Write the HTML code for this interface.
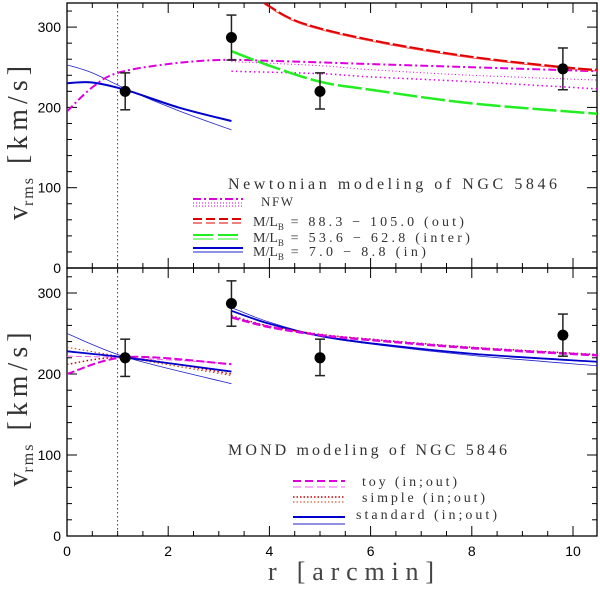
<!DOCTYPE html>
<html><head><meta charset="utf-8"><style>
body{margin:0;background:#fff;width:600px;height:585px;overflow:hidden}
svg text{font-family:"Liberation Serif",serif}
</style></head><body>
<svg id="chart" width="600" height="585" xmlns="http://www.w3.org/2000/svg">
<g id="g"></g>
</svg>
<script>
// ---- data ----
const obsR = [1.15, 3.25, 5.0, 9.8];
const obsV = [220, 287, 220, 248];
const obsLo = [197, 259, 198, 222];
const obsHi = [243, 315, 243, 274];
// top panel (Newtonian)
const blueInR = [0, 0.5, 1.2, 2.2, 3.25];
const blueInThick = [230, 231, 221, 200, 183];
const blueInThin = [253, 243, 222, 196, 172];
const nfwR = [0, 0.5, 1, 2, 3, 4, 6, 8, 10.5];
const nfwV = [195, 225, 243, 254, 259, 258, 254, 250, 245];
const nfwDotR = [3.25, 5, 6, 8, 10.5];
const nfwDot1 = [245, 242, 238, 232, 223];
const nfwDot2 = [257, 252, 247, 240, 234];
const greenR = [3.25, 4, 5, 6, 8, 10.5];
const greenV = [270, 252, 232, 222, 205, 192];
const redR = [3.9, 4.6, 6, 8, 10, 10.5];
const redV = [330, 306, 284, 263, 249, 247];
// bottom panel (MOND)
const inR = [0, 1.2, 3.25];
const stdInThick = [228, 220, 203];
const stdInThin = [250, 220, 188];
const toyIn1 = [200, 221, 212];
const toyIn2 = [222, 220, 213];
const simpIn1 = [212, 220, 200];
const simpIn2 = [233, 220, 198];
const outR = [3.25, 4, 5, 6, 8, 10.5];
const toyOut = [270, 258, 248, 242, 232, 223];
const simpOut = [272, 259, 249, 243, 233, 224];
const stdOutThick = [278, 262, 247, 238, 225, 215];
const stdOutThin = [282, 264, 247, 237, 223, 210];
const xTicks = [0, 2, 4, 6, 8, 10];
const yTicks = [0, 100, 200, 300];

// ---- axes ----
const X0 = 67, XS = 50.6, XR = 597;
function sx(r){ return X0 + r*XS; }
const panels = [{top:3, zero:268, s:0.803}, {top:268, zero:536, s:0.81}];
function sy(p, v){ return panels[p].zero - v*panels[p].s; }
const NS = "http://www.w3.org/2000/svg";
const g = document.getElementById('g');
function el(t, a, parent){ const e=document.createElementNS(NS,t); for(const k in a) e.setAttribute(k,a[k]); (parent||g).appendChild(e); return e; }
function path(p, R, V){
  const pts = R.map((r,i)=>[sx(r), sy(p,V[i])]);
  let d = "M"+pts[0][0]+","+pts[0][1];
  for(let i=0;i<pts.length-1;i++){
    const p0=pts[Math.max(i-1,0)], p1=pts[i], p2=pts[i+1], p3=pts[Math.min(i+2,pts.length-1)];
    const c1=[p1[0]+(p2[0]-p0[0])/6, p1[1]+(p2[1]-p0[1])/6];
    const c2=[p2[0]-(p3[0]-p1[0])/6, p2[1]-(p3[1]-p1[1])/6];
    d += " C"+c1+" "+c2+" "+p2;
  }
  return d;
}
function curve(p, R, V, color, w, dash, name){
  const e = el('path', {d:path(p,R,V), fill:'none', stroke:color, 'stroke-width':w, 'stroke-dasharray':dash||'none', 'clip-path':'url(#clip'+p+')'});
  
  
}
const defs = el('defs', {});
[0,1].forEach(p=>{
  const c = el('clipPath', {id:'clip'+p}, defs);
  el('rect', {x:X0, y:panels[p].top, width:XR-X0, height:panels[p].zero-panels[p].top}, c);
});

[0,1].forEach(p=>{
  const P = panels[p];
  const f = el('rect', {x:X0, y:P.top, width:XR-X0, height:P.zero-P.top, fill:'none', stroke:'#000', 'stroke-width':1.3});
  
  
  for(let r=0.5; sx(r)<XR; r+=0.5){
    const maj = Math.abs(r%2)<1e-6; const L = maj?10:5;
    el('line',{x1:sx(r),x2:sx(r),y1:P.zero,y2:P.zero-L,stroke:'#000','stroke-width':1});
    el('line',{x1:sx(r),x2:sx(r),y1:P.top,y2:P.top+L,stroke:'#000','stroke-width':1});
  }
  for(let v=20; sy(p,v)>P.top; v+=20){
    const maj = v%100===0; const L = maj?10:5;
    el('line',{x1:X0,x2:X0+L,y1:sy(p,v),y2:sy(p,v),stroke:'#000','stroke-width':1});
    el('line',{x1:XR,x2:XR-L,y1:sy(p,v),y2:sy(p,v),stroke:'#000','stroke-width':1});
  }
  yTicks.forEach(v=>{
    const t = el('text',{x:X0-6,y:sy(p,v)+5,'text-anchor':'end','font-size':14,style:'font-family:"Liberation Sans",sans-serif'});
    t.textContent = v;
    
    
  });
  el('line',{x1:sx(1),x2:sx(1),y1:P.top,y2:P.zero,stroke:'#444','stroke-width':1,'stroke-dasharray':'1.5,2.5'});
  const yt = el('text',{x:0,y:0,transform:'translate(27,'+((P.top+P.zero)/2+5)+') rotate(-90)','text-anchor':'middle','font-size':28,fill:'#333'});
  yt.innerHTML = 'v<tspan font-size="16" dy="6" letter-spacing="2">rms</tspan><tspan dy="-6" letter-spacing="5">  [km/s]</tspan>';
  
  
});
xTicks.forEach(r=>{
  const t = el('text',{x:sx(r),y:556,'text-anchor':'middle','font-size':14,style:'font-family:"Liberation Sans",sans-serif'});
  t.textContent = r;
  
  
});
const xt = el('text',{x:268,y:580,'font-size':26,fill:'#444',textLength:166,lengthAdjust:'spacing'});
xt.textContent = 'r [arcmin]';



curve(0, blueInR, blueInThin, '#2222cc', 0.8, null, 'newton-in-thin');
curve(0, blueInR, blueInThick, '#0000cc', 2, null, 'newton-in-thick');
curve(0, nfwR, nfwV, '#dd00dd', 2, '8,3,2,3', 'nfw-dashdot');
curve(0, nfwDotR, nfwDot1, '#dd00dd', 1.5, '1.5,3', 'nfw-dotted-1');
curve(0, nfwDotR, nfwDot2, '#dd00dd', 1, '1,2.5', 'nfw-dotted-2');
curve(0, greenR, greenV, '#22ee22', 2.5, '24,4', 'newton-inter');
curve(0, redR, redV, '#dd0000', 2, '14,3', 'newton-out');
curve(0, redR, redV.map(v=>v-1.5), '#ff3333', 0.8, null, 'newton-out-thin');
curve(1, inR, stdInThin, '#2222cc', 0.8, null, 'mond-std-in-thin');
curve(1, inR, simpIn2, '#cc3300', 1, '1.5,2.5', 'mond-simple-in-2');
curve(1, inR, simpIn1, '#cc0000', 1.5, '1.5,2.5', 'mond-simple-in-1');
curve(1, inR, toyIn2, '#ee66ee', 1, '6,3', 'mond-toy-in-2');
curve(1, inR, toyIn1, '#dd00dd', 2, '8,3', 'mond-toy-in-1');
curve(1, inR, stdInThick, '#0000cc', 1.8, null, 'mond-std-in-thick');
curve(1, outR, stdOutThin, '#2222cc', 0.8, null, 'mond-std-out-thin');
curve(1, outR, stdOutThick, '#0000cc', 1.8, null, 'mond-std-out-thick');
curve(1, outR, simpOut, '#cc0000', 1.5, '1.5,2.5', 'mond-simple-out');
curve(1, outR, toyOut, '#dd00dd', 2.5, '8,3', 'mond-toy-out');

[0,1].forEach(p=>{
  obsR.forEach((r,i)=>{
    const x = sx(r);
    const grp = el('g',{});
    
    
    el('line',{x1:x,x2:x,y1:sy(p,obsLo[i]),y2:sy(p,obsHi[i]),stroke:'#222','stroke-width':1.5},grp);
    el('line',{x1:x-5,x2:x+5,y1:sy(p,obsLo[i]),y2:sy(p,obsLo[i]),stroke:'#222','stroke-width':1.5},grp);
    el('line',{x1:x-5,x2:x+5,y1:sy(p,obsHi[i]),y2:sy(p,obsHi[i]),stroke:'#222','stroke-width':1.5},grp);
    el('circle',{cx:x,cy:sy(p,obsV[i]),r:5.5,fill:'#000'},grp);
  });
});

function legText(x,y,txt,size,name,len){
  const a = {x:x,y:y,'font-size':size||14,fill:'#333'};
  if(len){ a.textLength = len; a.lengthAdjust = 'spacing'; }
  const t = el('text',a);
  t.innerHTML = txt;
  
  
}
function legLine(x1,x2,y,color,w,dash){
  el('line',{x1:x1,x2:x2,y1:y,y2:y,stroke:color,'stroke-width':w,'stroke-dasharray':dash||'none'});
}
legText(228,189,'Newtonian modeling of NGC 5846',16,'top-legend-title',329);
legLine(193,243,199,'#dd00dd',2,'8,3,2,3'); legLine(193,243,203,'#dd00dd',1,'1,2'); legLine(193,243,206,'#dd00dd',1,'1,2');
legText(261,206,'NFW',13,'legend-nfw',32);
legLine(193,243,219,'#dd0000',2,'9,4'); legLine(193,243,223,'#dd0000',1,'9,4');
legText(253,226,'M/L<tspan font-size="9" dy="4">B</tspan><tspan dy="-4" textLength="180" lengthAdjust="spacing"> = 88.3 − 105.0 (out)</tspan>',14,'legend-out');
legLine(193,243,235,'#22ee22',2,'20,5'); legLine(193,243,239,'#22ee22',1,'20,5');
legText(253,242,'M/L<tspan font-size="9" dy="4">B</tspan><tspan dy="-4" textLength="186" lengthAdjust="spacing"> = 53.6 − 62.8 (inter)</tspan>',14,'legend-inter');
legLine(193,243,248,'#0000cc',2); legLine(193,243,252,'#2222cc',1);
legText(253,256,'M/L<tspan font-size="9" dy="4">B</tspan><tspan dy="-4" textLength="142" lengthAdjust="spacing"> = 7.0 − 8.8 (in)</tspan>',14,'legend-in');

legText(228,455,'MOND modeling of NGC 5846',16,'bottom-legend-title',279);
legLine(293,345,481,'#dd00dd',2,'8,4'); legLine(293,345,487,'#ee66ee',1,'8,4');
legText(362,486,'toy (in;out)',14,'legend-toy',95);
legLine(293,345,497,'#cc0000',1.5,'1.5,2'); legLine(293,345,502,'#cc3300',1,'1.5,2');
legText(362,502,'simple (in;out)',14,'legend-simple',123);
legLine(293,345,517,'#0000cc',2); legLine(293,345,524,'#2222cc',1);
legText(356,519,'standard (in;out)',14,'legend-standard',141);
</script>
</body></html>
